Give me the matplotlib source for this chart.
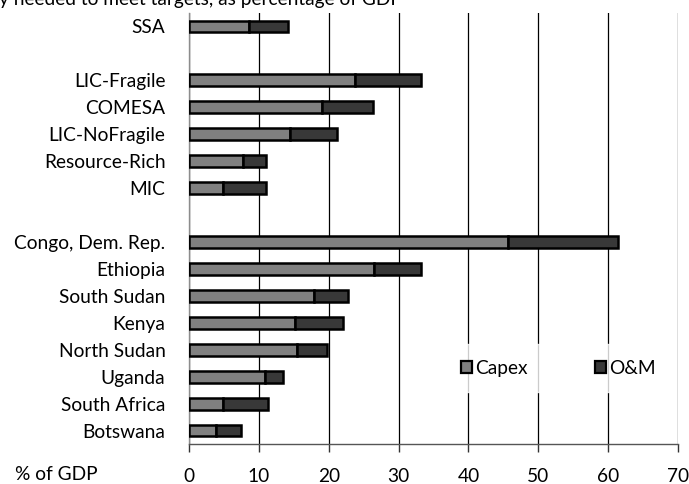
import numpy as np
import matplotlib
matplotlib.use("Agg")
import matplotlib.pyplot as plt

plt.rcParams['font.family'] = ['Lato', 'DejaVu Sans']

# spending needs, % of GDP (top to bottom)
categories = ['SSA',
              'LIC-Fragile', 'COMESA', 'LIC-NoFragile', 'Resource-Rich', 'MIC',
              'Congo, Dem. Rep.', 'Ethiopia', 'South Sudan', 'Kenya',
              'North Sudan', 'Uganda', 'South Africa', 'Botswana']
capex = [8.6,
         23.8, 19.1, 14.5, 7.7, 4.9,
         45.7, 26.5, 17.9, 15.2, 15.4, 10.9, 4.9, 3.9]
om = [5.6,
      9.4, 7.2, 6.7, 3.3, 6.1,
      15.7, 6.7, 4.8, 6.9, 4.4, 2.6, 6.4, 3.5]
# a blank row goes after these indices
gap_after = [0, 5]
xticks = [0, 10, 20, 30, 40, 50, 60, 70]

capex_color = '#808080'
om_color = '#383838'
fs = 13.8

# row positions with blank slots between the groups
rows = []
pos = 0
for i in range(len(categories)):
    rows.append(pos)
    pos += 1
    if i in gap_after:
        pos += 1
n_slots = pos
rows = np.array(rows)

fig = plt.figure(figsize=(6.89, 4.84), dpi=100)
ax = fig.add_axes([0.2743, 0.0826, 0.7097, 0.8905])

ax.barh(rows, capex, height=0.44, color=capex_color, edgecolor='black',
        linewidth=1.8, label='Capex', zorder=3)
ax.barh(rows, om, left=capex, height=0.44, color=om_color, edgecolor='black',
        linewidth=1.8, label='O&M', zorder=3)

ax.set_ylim(n_slots - 0.5, -0.5)
ax.set_xlim(0, 70)
ax.set_yticks(rows)
ax.set_yticklabels(categories, fontsize=fs)
ax.set_xticks(xticks)
ax.set_xticklabels([str(t) for t in xticks], fontsize=fs)

ax.tick_params(axis='y', length=0, pad=17)
ax.tick_params(axis='x', direction='out', length=6, width=1, color='#333333', pad=11)

ax.grid(axis='x', color='black', linewidth=0.9, zorder=0)
for s in ['top', 'right']:
    ax.spines[s].set_visible(False)
ax.spines['left'].set_color('#8c8c8c')
ax.spines['left'].set_linewidth(1.0)
ax.spines['bottom'].set_color('#555555')
ax.spines['bottom'].set_linewidth(1.0)

leg = ax.legend(loc='center', bbox_to_anchor=(0.755, 0.176), ncol=2,
                frameon=True, fancybox=False, fontsize=fs,
                handlelength=0.6, handleheight=0.6, handletextpad=0.15,
                columnspacing=3.5, borderpad=0.8)
leg.get_frame().set_facecolor('white')
leg.get_frame().set_edgecolor('white')
leg.set_zorder(5)
for h in leg.legend_handles:
    h.set_linewidth(1.6)
    h.set_edgecolor('black')

fig.text(15 / 689, 1 - 475 / 484, '% of GDP', fontsize=fs, va='center', ha='left')
fig.text(-1 / 689, 1 - 5 / 484, 'y needed to meet targets, as percentage of GDP',
         fontsize=fs, va='baseline', ha='left')

fig.savefig('out.png', dpi=100)
